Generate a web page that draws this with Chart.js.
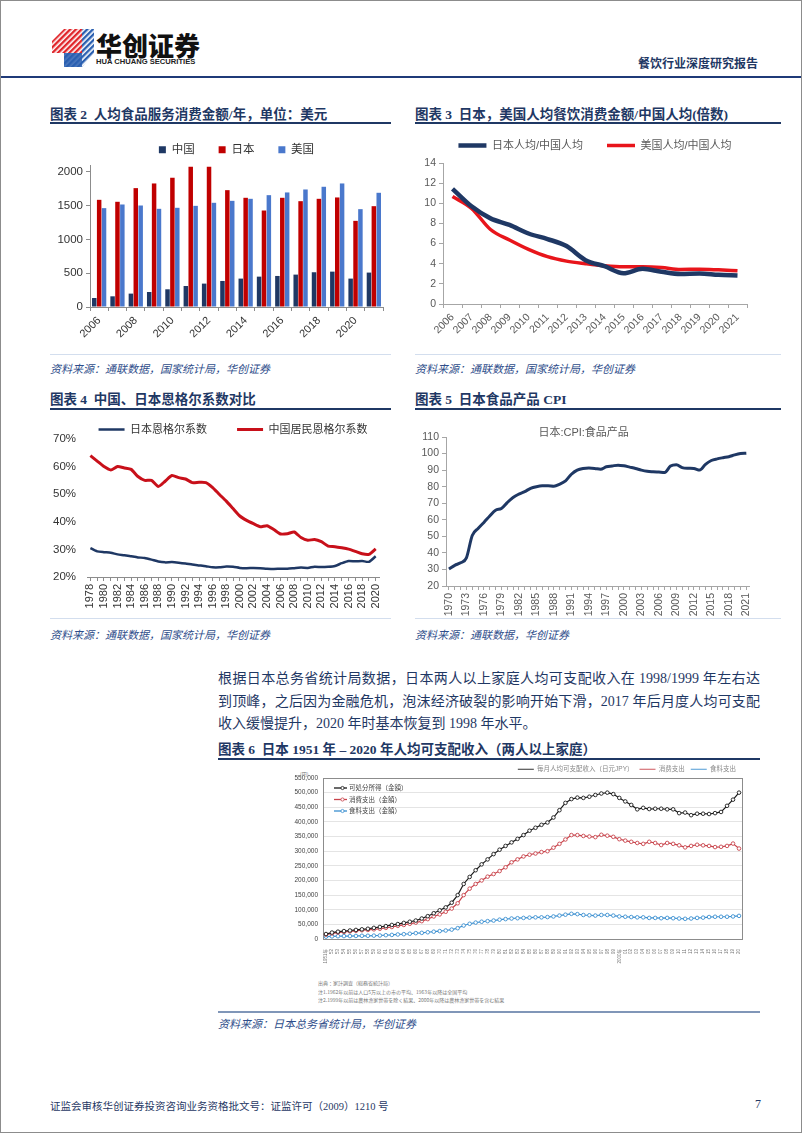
<!DOCTYPE html>
<html>
<head>
<meta charset="utf-8">
<script src="https://cdn.jsdelivr.net/npm/chart.js@4.4.0/dist/chart.umd.min.js"></script>
<style>
body { margin: 0; background: #fff; }
#page { position: relative; width: 802px; height: 1133px; overflow: hidden; font-family: "Liberation Serif", "Noto Sans CJK SC", serif; }
.frame { position: absolute; left: 0; top: 0; width: 800px; height: 1131px; border: 1px solid #8c8c8c; }
.abs { position: absolute; white-space: nowrap; }
canvas { position: absolute; }
.ttl { font-weight: bold; color: #1f3864; font-size: 13.5px; }
.uline { position: absolute; height: 2px; background: #1f3864; }
.sline { position: absolute; height: 1px; background: #d3deee; }
.src { font-style: italic; color: #2e4d8a; font-size: 11px; }
.para { position: absolute; left: 218px; width: 542px; font-size: 14px; color: #1f3864; text-align: justify; text-align-last: justify; white-space: nowrap; }
.tiny { position: absolute; white-space: nowrap; font-family: "Noto Sans CJK JP", "Noto Sans CJK SC", sans-serif; color: #777; font-size: 10px; transform: scale(0.5); transform-origin: 0 0; }
</style>
</head>
<body>
<div id="page">
  <div class="frame"></div>

  <!-- header -->
  <svg class="abs" style="left:52px;top:29px" width="42" height="38" viewBox="0 0 42 38">
    <defs>
      <pattern id="rs" width="4" height="4" patternUnits="userSpaceOnUse" patternTransform="rotate(45)">
        <rect width="2.4" height="4" fill="#e0262b"/>
      </pattern>
      <pattern id="bs" width="4" height="4" patternUnits="userSpaceOnUse" patternTransform="rotate(45)">
        <rect width="2.4" height="4" fill="#2a5fb0"/>
      </pattern>
    </defs>
    <polygon points="12,0 30,0 30,24 0,24 0,12" fill="url(#rs)"/>
    <polygon points="30,0 42,0 42,24 30,38 12,38 12,24 30,24" fill="url(#bs)"/>
    <polygon points="12,24 30,24 30,38 12,38" fill="#2a5fb0" opacity="0.85"/>
  </svg>
  <div class="abs" style="left:96px;top:26px;font-family:'Noto Sans CJK SC';font-weight:900;font-size:26px;color:#111">华创证券</div>
  <div class="abs" style="left:96px;top:57px;font-family:'Liberation Sans';font-weight:bold;font-size:7.6px;color:#222">HUA CHUANG SECURITIES</div>
  <div class="abs" style="left:638px;top:54px;font-family:'Noto Sans CJK SC';font-weight:bold;font-size:12px;color:#1f3864">餐饮行业深度研究报告</div>
  <div class="abs" style="left:1px;top:76px;width:800px;height:2px;background:#1f3a78"></div>

  <!-- chart titles row 1 -->
  <div class="abs ttl" style="left:50px;top:103px">图表 2&nbsp;&nbsp;人均食品服务消费金额/年，单位：美元</div>
  <div class="uline" style="left:50px;top:122px;width:341px"></div>
  <div class="abs ttl" style="left:415px;top:103px">图表 3&nbsp;&nbsp;日本，美国人均餐饮消费金额/中国人均(倍数)</div>
  <div class="uline" style="left:415px;top:122px;width:366px"></div>

  <canvas id="c2" width="345" height="230" style="left:48px;top:120px"></canvas>
  <canvas id="c3" width="370" height="234" style="left:415px;top:116px"></canvas>

  <div class="sline" style="left:50px;top:354px;width:341px"></div>
  <div class="sline" style="left:415px;top:354px;width:366px"></div>
  <div class="abs src" style="left:50px;top:360px">资料来源：通联数据，国家统计局，华创证券</div>
  <div class="abs src" style="left:415px;top:360px">资料来源：通联数据，国家统计局，华创证券</div>

  <!-- chart titles row 2 -->
  <div class="abs ttl" style="left:50px;top:388px">图表 4&nbsp;&nbsp;中国、日本恩格尔系数对比</div>
  <div class="uline" style="left:50px;top:408px;width:341px"></div>
  <div class="abs ttl" style="left:415px;top:388px">图表 5&nbsp;&nbsp;日本食品产品 CPI</div>
  <div class="uline" style="left:415px;top:408px;width:366px"></div>

  <canvas id="c4" width="347" height="216" style="left:45px;top:394px"></canvas>
  <canvas id="c5" width="350" height="198" style="left:412px;top:420px"></canvas>

  <div class="sline" style="left:50px;top:618px;width:341px"></div>
  <div class="sline" style="left:415px;top:618px;width:366px"></div>
  <div class="abs src" style="left:50px;top:626px">资料来源：通联数据，国家统计局，华创证券</div>
  <div class="abs src" style="left:415px;top:626px">资料来源：通联数据，华创证券</div>

  <!-- paragraph -->
  <div class="para" style="top:667px">根据日本总务省统计局数据，日本两人以上家庭人均可支配收入在 1998/1999 年左右达</div>
  <div class="para" style="top:690px">到顶峰，之后因为金融危机，泡沫经济破裂的影响开始下滑，2017 年后月度人均可支配</div>
  <div class="para" style="top:712px;text-align-last:left">收入缓慢提升，2020 年时基本恢复到 1998 年水平。</div>

  <div class="abs ttl" style="left:218px;top:738px">图表 6&nbsp;&nbsp;日本 1951 年 – 2020 年人均可支配收入（两人以上家庭）</div>
  <div class="uline" style="left:218px;top:758px;width:542px"></div>

  <div class="tiny" style="left:300px;top:770px">(円)</div>
  <canvas id="c6" width="462" height="205" style="left:290px;top:760px"></canvas>
  <div class="tiny" style="left:318px;top:979px">出典：家計調査（総務省統計局）</div>
  <div class="tiny" style="left:318px;top:988px">注1.1962年以前は人口5万以上の市の平均、1963年以降は全国平均</div>
  <div class="tiny" style="left:318px;top:996px">注2.1999年以前は農林漁家世帯を除く結果、2000年以降は農林漁家世帯を含む結果</div>

  <div class="abs" style="left:218px;top:1011px;width:542px;height:2px;background:#8096b8"></div>
  <div class="abs src" style="left:218px;top:1015px">资料来源：日本总务省统计局，华创证券</div>

  <!-- footer -->
  <div class="abs" style="left:50px;top:1098px;font-size:10.5px;color:#1f3864">证监会审核华创证券投资咨询业务资格批文号：证监许可（2009）1210 号</div>
  <div class="abs" style="left:755px;top:1097px;font-size:12px;color:#1f3864">7</div>
</div>

<script>
// ---- chart 2: per-capita food service spending (USD)
const spendYears = ['2006','2007','2008','2009','2010','2011','2012','2013','2014','2015','2016','2017','2018','2019','2020','2021'];
const chinaSpend = [133, 158, 198, 222, 262, 311, 346, 385, 420, 449, 459, 479, 514, 523, 420, 509];
const japanSpend = [1585, 1556, 1758, 1827, 1911, 2074, 2074, 1728, 1615, 1427, 1615, 1565, 1600, 1620, 1274, 1491];
const usSpend = [1462, 1516, 1501, 1452, 1467, 1496, 1541, 1570, 1600, 1654, 1694, 1738, 1778, 1827, 1447, 1689];
const spendTicks = [0, 500, 1000, 1500, 2000];

// ---- chart 3: ratio to China
const ratioJapan = [11.44, 9.7, 8.5, 7.85, 7.0, 6.45, 5.75, 4.35, 3.75, 3.05, 3.5, 3.2, 2.98, 3.03, 2.9, 2.83];
const ratioUS = [10.67, 9.5, 7.4, 6.35, 5.42, 4.7, 4.26, 4.0, 3.79, 3.69, 3.69, 3.62, 3.43, 3.46, 3.39, 3.29];

// ---- chart 4: Engel coefficient (%)
const engelYears = ['1978','1979','1980','1981','1982','1983','1984','1985','1986','1987','1988','1989','1990','1991','1992','1993','1994','1995','1996','1997','1998','1999','2000','2001','2002','2003','2004','2005','2006','2007','2008','2009','2010','2011','2012','2013','2014','2015','2016','2017','2018','2019','2020'];
const engelJapan = [30.5, 29.3, 29.0, 28.8, 28.2, 27.9, 27.5, 27.1, 26.9, 26.3, 25.6, 25.3, 25.4, 25.2, 24.9, 24.5, 24.2, 23.9, 23.5, 23.5, 23.8, 23.7, 23.3, 23.2, 23.3, 23.2, 23.0, 22.9, 23.0, 23.0, 23.2, 23.4, 23.3, 23.7, 23.6, 23.7, 24.0, 25.0, 25.8, 25.7, 25.8, 25.5, 27.5];
const engelChina = [64.0, 62.0, 60.0, 58.8, 60.0, 59.5, 59.0, 56.4, 55.0, 55.0, 52.8, 54.7, 56.8, 56.0, 55.5, 54.2, 54.3, 54.2, 52.4, 49.9, 47.5, 44.8, 42.1, 40.5, 39.3, 38.2, 38.6, 37.2, 35.6, 35.7, 36.3, 34.3, 33.3, 33.6, 32.8, 31.2, 31.0, 30.6, 30.1, 29.3, 28.4, 28.2, 30.2];

// ---- chart 5: Japan food CPI
const cpiYears = ['1970','1971','1972','1973','1974','1975','1976','1977','1978','1979','1980','1981','1982','1983','1984','1985','1986','1987','1988','1989','1990','1991','1992','1993','1994','1995','1996','1997','1998','1999','2000','2001','2002','2003','2004','2005','2006','2007','2008','2009','2010','2011','2012','2013','2014','2015','2016','2017','2018','2019','2020','2021'];
const cpiFood = [30.3, 32.5, 34.0, 37.0, 50.5, 54.8, 58.4, 62.3, 65.8, 66.8, 70.4, 73.5, 75.5, 77.0, 79.0, 80.0, 80.5, 80.5, 80.3, 81.5, 83.5, 87.5, 90.0, 91.0, 91.2, 91.0, 90.5, 92.0, 92.5, 93.0, 92.6, 91.8, 91.0, 90.0, 89.3, 89.0, 88.8, 88.6, 92.5, 93.3, 91.5, 91.1, 91.0, 90.0, 93.5, 95.8, 96.8, 97.5, 98.1, 99.2, 100.0, 100.2];

// ---- chart 6: Japan household income (yen / month)
const incomeYears = ['1951','1952','1953','1954','1955','1956','1957','1958','1959','1960','1961','1962','1963','1964','1965','1966','1967','1968','1969','1970','1971','1972','1973','1974','1975','1976','1977','1978','1979','1980','1981','1982','1983','1984','1985','1986','1987','1988','1989','1990','1991','1992','1993','1994','1995','1996','1997','1998','1999','2000','2001','2002','2003','2004','2005','2006','2007','2008','2009','2010','2011','2012','2013','2014','2015','2016','2017','2018','2019','2020'];
const disposable = [17000, 22000, 25000, 27000, 29000, 31000, 33000, 35000, 38000, 41000, 44000, 48000, 51000, 55000, 59000, 63000, 70000, 78000, 88000, 98000, 108000, 124000, 150000, 188000, 212000, 235000, 255000, 272000, 290000, 305000, 318000, 330000, 342000, 355000, 370000, 380000, 390000, 398000, 415000, 440000, 465000, 478000, 483000, 482000, 486000, 492000, 497000, 500000, 495000, 482000, 470000, 458000, 443000, 448000, 444000, 445000, 445000, 443000, 443000, 430000, 432000, 423000, 428000, 428000, 427000, 430000, 434000, 455000, 476000, 500000];
const consumption = [15000, 19000, 22000, 24000, 26000, 28000, 30000, 31000, 33000, 35000, 38000, 41000, 45000, 48000, 52000, 56000, 61000, 68000, 77000, 84000, 93000, 104000, 122000, 150000, 172000, 188000, 200000, 213000, 222000, 232000, 245000, 262000, 272000, 282000, 288000, 292000, 297000, 300000, 312000, 325000, 340000, 355000, 355000, 352000, 350000, 348000, 356000, 353000, 349000, 341000, 336000, 332000, 328000, 325000, 332000, 328000, 321000, 328000, 325000, 320000, 313000, 318000, 322000, 320000, 318000, 314000, 315000, 318000, 326000, 309000];
const foodSpend = [8000, 9000, 9500, 10000, 10000, 10500, 11000, 11000, 11500, 12000, 13000, 14000, 15500, 16500, 18000, 20000, 21000, 23000, 25000, 27000, 29000, 32000, 37000, 46000, 52000, 56000, 59000, 61000, 63000, 66000, 68000, 70000, 71000, 72000, 73000, 74000, 74000, 75000, 77000, 80000, 83000, 86000, 85000, 82000, 81000, 80000, 82000, 82000, 80000, 77000, 76000, 75000, 74000, 74000, 72000, 72000, 71000, 72000, 71000, 70000, 69000, 70000, 72000, 73000, 75000, 76000, 76000, 76000, 77000, 79000];
const innerLegend = ['可処分所得（金額）', '消費支出（金額）', '食料支出（金額）'];

Chart.defaults.font.family = "'Liberation Sans', 'Noto Sans CJK SC', sans-serif";
Chart.defaults.animation = false;
Chart.defaults.responsive = false;
Chart.defaults.plugins.tooltip.enabled = false;

// fixed legend height, single row, and legend centred over the plot area like Excel does
function legendBox(h) {
  return {
    id: 'legendBox',
    beforeInit(chart) {
      const fit = chart.legend.fit;
      chart.legend.fit = function () {
        const mw = this.maxWidth;
        this.maxWidth = 2000;
        fit.call(this);
        this.maxWidth = mw;
        this.width = mw;
        this.height = h;
      };
    },
    afterLayout(chart) {
      const lg = chart.legend, a = chart.chartArea;
      lg.left = a.left - 200; lg.right = a.right + 200; lg.width = lg.right - lg.left;
    }
  };
}

// chart 2
new Chart(document.getElementById('c2'), {
  type: 'bar',
  data: {
    labels: spendYears,
    datasets: [
      { label: '中国', data: chinaSpend, backgroundColor: '#1f3864' },
      { label: '日本', data: japanSpend, backgroundColor: '#c00000' },
      { label: '美国', data: usSpend, backgroundColor: '#4a78cc' }
    ]
  },
  options: {
    layout: { padding: { right: 10 } },
    datasets: { bar: { categoryPercentage: 0.8, barPercentage: 0.92 } },
    plugins: {
      legend: { labels: { boxWidth: 7, boxHeight: 7, padding: 24, font: { size: 11.5 }, color: '#333' } }
    },
    scales: {
      x: {
        grid: { display: true, drawOnChartArea: false, tickLength: 4, color: '#8c8c8c' },
        border: { color: '#8c8c8c' },
        ticks: { autoSkip: false, maxRotation: 45, minRotation: 45, font: { size: 11 }, color: '#333',
          callback: (v, i) => i % 2 === 0 ? spendYears[i] : '' },
        afterFit: s => { s.height = 43; }
      },
      y: {
        min: 0, max: 2100,
        grid: { display: true, drawOnChartArea: false, tickLength: 4, color: '#8c8c8c' },
        border: { color: '#8c8c8c' },
        ticks: { autoSkip: false, font: { size: 11.5 }, color: '#333', callback: v => String(v) },
        afterBuildTicks: s => { s.ticks = spendTicks.map(v => ({ value: v })); },
        afterFit: s => { s.width = 42; }
      }
    }
  },
  plugins: [legendBox(45)]
});

// chart 3
new Chart(document.getElementById('c3'), {
  type: 'line',
  data: {
    labels: spendYears,
    datasets: [
      { label: '日本人均/中国人均', data: ratioJapan, borderColor: '#1f3864', backgroundColor: '#1f3864', borderWidth: 4.5, pointRadius: 0, pointStyle: 'line', cubicInterpolationMode: 'monotone' },
      { label: '美国人均/中国人均', data: ratioUS, borderColor: '#e8151b', backgroundColor: '#e8151b', borderWidth: 3.5, pointRadius: 0, pointStyle: 'line', cubicInterpolationMode: 'monotone' }
    ]
  },
  options: {
    layout: { padding: { right: 38 } },
    plugins: {
      legend: { labels: { usePointStyle: true, pointStyleWidth: 28, padding: 24, font: { size: 11 }, color: '#595959' } }
    },
    scales: {
      x: {
        offset: true,
        grid: { display: true, drawOnChartArea: false, offset: true, tickLength: 4, color: '#a6a6a6' },
        border: { color: '#a6a6a6' },
        ticks: { autoSkip: false, maxRotation: 45, minRotation: 45, font: { size: 10.5 }, color: '#595959' },
        afterFit: s => { s.height = 46; }
      },
      y: {
        min: 0, max: 14,
        grid: { display: true, drawOnChartArea: false, tickLength: 4, color: '#a6a6a6' },
        border: { color: '#a6a6a6' },
        ticks: { stepSize: 2, font: { size: 10.5 }, color: '#595959' },
        afterFit: s => { s.width = 28; }
      }
    }
  },
  plugins: [legendBox(47)]
});

// chart 4
new Chart(document.getElementById('c4'), {
  type: 'line',
  data: {
    labels: engelYears,
    datasets: [
      { label: '日本恩格尔系数', data: engelJapan, borderColor: '#1f3864', backgroundColor: '#1f3864', borderWidth: 2.5, pointRadius: 0, pointStyle: 'line', tension: 0.2 },
      { label: '中国居民恩格尔系数', data: engelChina, borderColor: '#c8101a', backgroundColor: '#c8101a', borderWidth: 3, pointRadius: 0, pointStyle: 'line', tension: 0.2 }
    ]
  },
  options: {
    layout: { padding: { right: 8 } },
    plugins: {
      legend: { labels: { usePointStyle: true, pointStyleWidth: 26, padding: 30, font: { size: 11 }, color: '#333' } }
    },
    scales: {
      x: {
        offset: true,
        grid: { display: true, drawOnChartArea: false, offset: false, tickLength: 4, color: '#8c8c8c' },
        border: { color: '#8c8c8c' },
        ticks: { autoSkip: false, maxRotation: 90, minRotation: 90, font: { size: 11 }, color: '#333',
          callback: (v, i) => i % 2 === 0 ? engelYears[i] : '' },
        afterFit: s => { s.height = 33; }
      },
      y: {
        min: 20, max: 70,
        grid: { display: false },
        border: { display: false },
        ticks: { stepSize: 10, font: { size: 11.5 }, color: '#333', callback: v => v + '%' },
        afterFit: s => { s.width = 42; }
      }
    }
  },
  plugins: [legendBox(45)]
});

// chart 5
new Chart(document.getElementById('c5'), {
  type: 'line',
  data: {
    labels: cpiYears,
    datasets: [
      { label: '日本:CPI:食品产品', data: cpiFood, borderColor: '#1f3864', borderWidth: 3, pointRadius: 0, cubicInterpolationMode: 'monotone' }
    ]
  },
  options: {
    layout: { padding: { top: 17, right: 8 } },
    plugins: { legend: { display: false } },
    scales: {
      x: {
        offset: true,
        grid: { display: true, drawOnChartArea: false, offset: false, tickLength: 4, color: '#a6a6a6' },
        border: { color: '#a6a6a6' },
        ticks: { autoSkip: false, maxRotation: 90, minRotation: 90, font: { size: 10.5 }, color: '#595959',
          callback: (v, i) => i % 3 === 0 ? cpiYears[i] : '' },
        afterFit: s => { s.height = 32; }
      },
      y: {
        min: 20, max: 110,
        grid: { display: true, drawOnChartArea: false, tickLength: 4, color: '#a6a6a6' },
        border: { color: '#a6a6a6' },
        ticks: { stepSize: 10, font: { size: 10.5 }, color: '#595959' },
        afterFit: s => { s.width = 34; }
      }
    }
  },
  plugins: [{
    id: 'innerTitle',
    afterDraw(chart) {
      const { ctx, chartArea } = chart;
      ctx.save();
      ctx.font = "11px 'Liberation Sans', 'Noto Sans CJK SC'";
      ctx.fillStyle = '#595959';
      ctx.textAlign = 'center';
      ctx.textBaseline = 'middle';
      ctx.fillText(chart.data.datasets[0].label, (chartArea.left + chartArea.right) / 2 - 14, chartArea.top - 4);
      ctx.restore();
    }
  }]
});

// chart 6
const incomeColors = ['#1a1a1a', '#c8434b', '#3a8fd0'];
new Chart(document.getElementById('c6'), {
  type: 'line',
  data: {
    labels: incomeYears,
    datasets: [
      { label: '毎月人均可支配收入（日元JPY）', data: disposable },
      { label: '消费支出', data: consumption },
      { label: '食料支出', data: foodSpend }
    ].map((d, i) => Object.assign(d, {
      borderColor: incomeColors[i], backgroundColor: incomeColors[i], borderWidth: 1.2,
      pointRadius: 1.8, pointBorderWidth: 0.9, pointBackgroundColor: '#fff', pointBorderColor: incomeColors[i],
      tension: 0
    }))
  },
  options: {
    layout: { padding: { right: 10 } },
    plugins: {
      legend: { align: 'end', labels: { usePointStyle: true, pointStyle: 'line', pointStyleWidth: 16, padding: 6, font: { size: 6.5 }, color: '#888' } }
    },
    scales: {
      x: {
        offset: true,
        grid: { display: false },
        border: { display: false },
        ticks: { autoSkip: false, maxRotation: 90, minRotation: 90, padding: 2, font: { size: 4.5 }, color: '#777',
          callback: (v, i) => (i === 0 || incomeYears[i] === '2000') ? incomeYears[i] + '年' : incomeYears[i].slice(2) },
        afterFit: s => { s.height = 26; }
      },
      y: {
        min: 0, max: 550000,
        grid: { color: '#e4e4e4', drawTicks: false },
        border: { display: false },
        ticks: { stepSize: 50000, padding: 5, font: { size: 6.5 }, color: '#444', callback: v => v.toLocaleString('en-US') },
        afterFit: s => { s.width = 33; }
      }
    }
  },
  plugins: [{
    id: 'legendRight',
    beforeInit(chart) {
      const fit = chart.legend.fit;
      chart.legend.fit = function () { fit.call(this); this.height = 18; };
    },
    afterLayout(chart) {
      chart.legend.right = chart.chartArea.right;
    }
  }, {
    id: 'frameAndInnerLegend',
    beforeDatasetsDraw(chart) {
      const { ctx, chartArea: a } = chart;
      ctx.save();
      ctx.strokeStyle = '#8c8c8c';
      ctx.lineWidth = 1;
      ctx.strokeRect(a.left + 0.5, a.top + 0.5, a.right - a.left, a.bottom - a.top);
      ctx.restore();
    },
    afterDraw(chart) {
      const { ctx, chartArea: a } = chart;
      ctx.save();
      ctx.font = "6.5px 'Noto Sans CJK JP', 'Noto Sans CJK SC'";
      ctx.textBaseline = 'middle';
      innerLegend.forEach((txt, i) => {
        const y = a.top + 10 + i * 11.5;
        const x = a.left + 11;
        ctx.strokeStyle = incomeColors[i];
        ctx.lineWidth = 1.3;
        ctx.beginPath(); ctx.moveTo(x, y); ctx.lineTo(x + 13, y); ctx.stroke();
        ctx.fillStyle = '#fff';
        ctx.lineWidth = 0.8;
        ctx.beginPath(); ctx.arc(x + 8.5, y, 1.6, 0, Math.PI * 2); ctx.fill(); ctx.stroke();
        ctx.fillStyle = '#444';
        ctx.fillText(txt, x + 15, y);
      });
      ctx.restore();
    }
  }]
});
</script>
</body>
</html>
